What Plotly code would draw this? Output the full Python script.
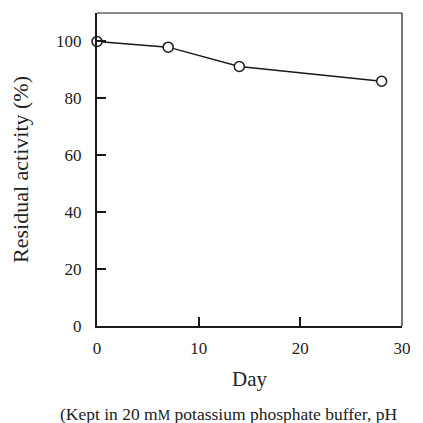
import plotly.graph_objects as go

days = [0, 7, 14, 28]
activity = [100, 98, 91.2, 86]
x_ticks = [0, 10, 20, 30]
y_ticks = [0, 20, 40, 60, 80, 100]

FONT = "Liberation Serif"

fig = go.Figure()
fig.add_trace(go.Scatter(
    x=days, y=activity, mode="lines+markers",
    line=dict(color="#1a1a1a", width=1.5),
    marker=dict(symbol="circle", size=10, color="white",
                line=dict(color="#1a1a1a", width=1.5)),
    cliponaxis=False, showlegend=False,
))

axis_common = dict(
    showgrid=False, zeroline=False, showline=True, linecolor="#1a1a1a",
    linewidth=2, ticks="inside", ticklen=9, tickwidth=1.5, tickcolor="#1a1a1a",
    tickfont=dict(family=FONT, size=17, color="#222"),
)

fig.update_layout(
    width=423, height=423,
    margin=dict(l=97, r=13, t=13, b=97),
    paper_bgcolor="white", plot_bgcolor="white",
    font=dict(family=FONT, color="#222"),
    xaxis=dict(range=[0, 30], tickvals=x_ticks, mirror=False, ticklabelstandoff=6,
               title=dict(text="Day", font=dict(family=FONT, size=21), standoff=14),
               **axis_common),
    yaxis=dict(range=[0, 110], tickvals=y_ticks, mirror=False, ticklabelstandoff=10,
               title=dict(text="Residual activity (%)", font=dict(family=FONT, size=22), standoff=21),
               **axis_common),
    shapes=[
        dict(type="line", xref="paper", yref="paper", x0=0, x1=1, y0=1, y1=1,
             line=dict(color="#1a1a1a", width=1.2)),
        dict(type="line", xref="paper", yref="paper", x0=1, x1=1, y0=0, y1=1,
             line=dict(color="#1a1a1a", width=1.2)),
    ],
    annotations=[
        dict(text="(Kept in 20 m<span style='font-size:14px'>M</span> potassium phosphate buffer, pH",
             xref="paper", yref="paper", x=-0.128, y=-0.281, xanchor="left", yanchor="middle",
             showarrow=False, font=dict(family=FONT, size=17.5, color="#222")),
    ],
)

fig.write_html("out.html")
